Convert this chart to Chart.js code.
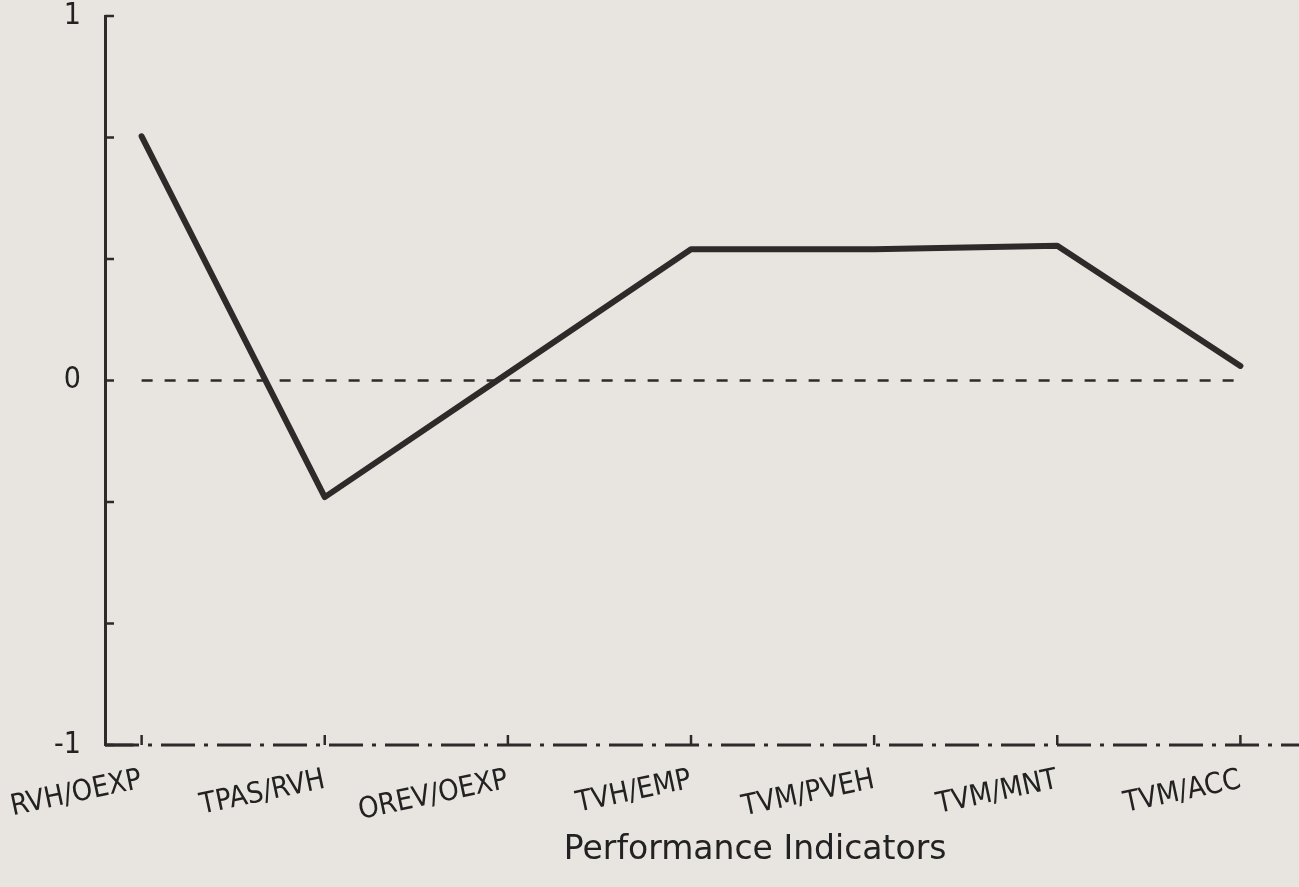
<!DOCTYPE html>
<html lang="en">
<head>
    <meta charset="UTF-8">
    <title>Performance Indicators</title>
    <style>
        body {
            margin: 0;
            background: #e8e4df;
        }
        canvas {
            display: block;
        }
    </style>
    <script src="https://cdn.jsdelivr.net/npm/chart.js"></script>
</head>
<body>
    <canvas id="indicatorChart" width="1299" height="887"></canvas>

    <script>
        // data
        const categories = ['RVH/OEXP', 'TPAS/RVH', 'OREV/OEXP', 'TVH/EMP', 'TVM/PVEH', 'TVM/MNT', 'TVM/ACC'];
        const indicatorValues = [0.67, -0.32, 0.02, 0.36, 0.36, 0.37, 0.04];
        const zeroLine = [0, 0];
        const yTickValues = [-1, -2 / 3, -1 / 3, 0, 1 / 3, 2 / 3, 1];
        const yTickLabels = ['-1', '0', '1'];
        const axisTitle = 'Performance Indicators';

        const ink = '#2f2a2a';
        const fontFamily = "'DejaVu Sans', sans-serif";
        const tickFamily = "'DejaVu Sans Condensed', 'DejaVu Sans', sans-serif";

        // tick marks inside the axes, dash-dot x axis and the axis title
        const plotterAxes = {
            id: 'plotterAxes',
            afterDraw(chart) {
                const ctx = chart.ctx;
                const xs = chart.scales.x;
                const ys = chart.scales.y;
                ctx.save();
                ctx.strokeStyle = ink;
                ctx.lineWidth = 2.8;

                // x axis, dash-dot like the plotter pen
                ctx.setLineDash([34, 9, 4, 9]);
                ctx.beginPath();
                ctx.moveTo(xs.left, ys.bottom);
                ctx.lineTo(xs.right, ys.bottom);
                ctx.stroke();
                ctx.setLineDash([]);
                ctx.beginPath();
                ctx.moveTo(xs.left, ys.bottom);
                ctx.lineTo(xs.getPixelForValue(0) - 8, ys.bottom);
                ctx.stroke();

                ctx.lineWidth = 2.5;
                yTickValues.forEach(v => {
                    const py = ys.getPixelForValue(v);
                    ctx.beginPath();
                    ctx.moveTo(xs.left, py);
                    ctx.lineTo(xs.left + 9, py);
                    ctx.stroke();
                });
                categories.forEach((c, i) => {
                    const px = xs.getPixelForValue(i);
                    ctx.beginPath();
                    ctx.moveTo(px, ys.bottom);
                    ctx.lineTo(px, ys.bottom - 10);
                    ctx.stroke();
                });

                ctx.fillStyle = '#222';
                ctx.font = '33px ' + fontFamily;
                ctx.textAlign = 'center';
                ctx.textBaseline = 'middle';
                ctx.fillText(axisTitle, xs.getPixelForValue(3.35), ys.bottom + 105);
                ctx.restore();
            }
        };

        const ctx = document.getElementById('indicatorChart').getContext('2d');
        const indicatorChart = new Chart(ctx, {
            type: 'line',
            data: {
                datasets: [{
                    data: indicatorValues.map((v, i) => ({ x: i, y: v })),
                    borderColor: ink,
                    borderWidth: 6,
                    pointRadius: 0,
                    tension: 0,
                    borderJoinStyle: 'round',
                    borderCapStyle: 'round'
                }, {
                    data: zeroLine.map((v, i) => ({ x: i * (categories.length - 1), y: v })),
                    borderColor: ink,
                    borderWidth: 2.5,
                    borderDash: [11, 12],
                    pointRadius: 0
                }]
            },
            options: {
                responsive: false,
                animation: false,
                layout: { padding: { top: 16, left: 0, right: 0, bottom: 0 } },
                plugins: {
                    legend: { display: false },
                    tooltip: { enabled: false }
                },
                scales: {
                    x: {
                        type: 'linear',
                        min: -0.2,
                        max: 6.32,
                        afterBuildTicks: scale => {
                            scale.ticks = categories.map((c, i) => ({ value: i }));
                        },
                        afterFit: scale => {
                            scale.height = 142;
                            scale.paddingLeft = 0;
                            scale.paddingRight = 0;
                        },
                        ticks: {
                            autoSkip: false,
                            minRotation: 12,
                            maxRotation: 12,
                            padding: 18,
                            color: '#222',
                            font: { family: tickFamily, size: 29 },
                            callback: v => categories[v]
                        },
                        grid: { drawOnChartArea: false, drawTicks: false },
                        border: { display: false }
                    },
                    y: {
                        min: -1,
                        max: 1,
                        afterBuildTicks: scale => {
                            scale.ticks = yTickValues.map(v => ({ value: v }));
                        },
                        afterFit: scale => {
                            scale.width = 105;
                            scale.paddingTop = 0;
                            scale.paddingBottom = 0;
                        },
                        ticks: {
                            autoSkip: false,
                            padding: 24,
                            color: '#222',
                            font: { family: tickFamily, size: 30 },
                            callback: v => {
                                const label = String(Math.round(v));
                                return Math.abs(v - Math.round(v)) < 1e-6 && yTickLabels.includes(label) ? label : '';
                            }
                        },
                        grid: { drawOnChartArea: false, drawTicks: false },
                        border: { color: ink, width: 3 }
                    }
                }
            },
            plugins: [plotterAxes]
        });
    </script>
</body>
</html>
